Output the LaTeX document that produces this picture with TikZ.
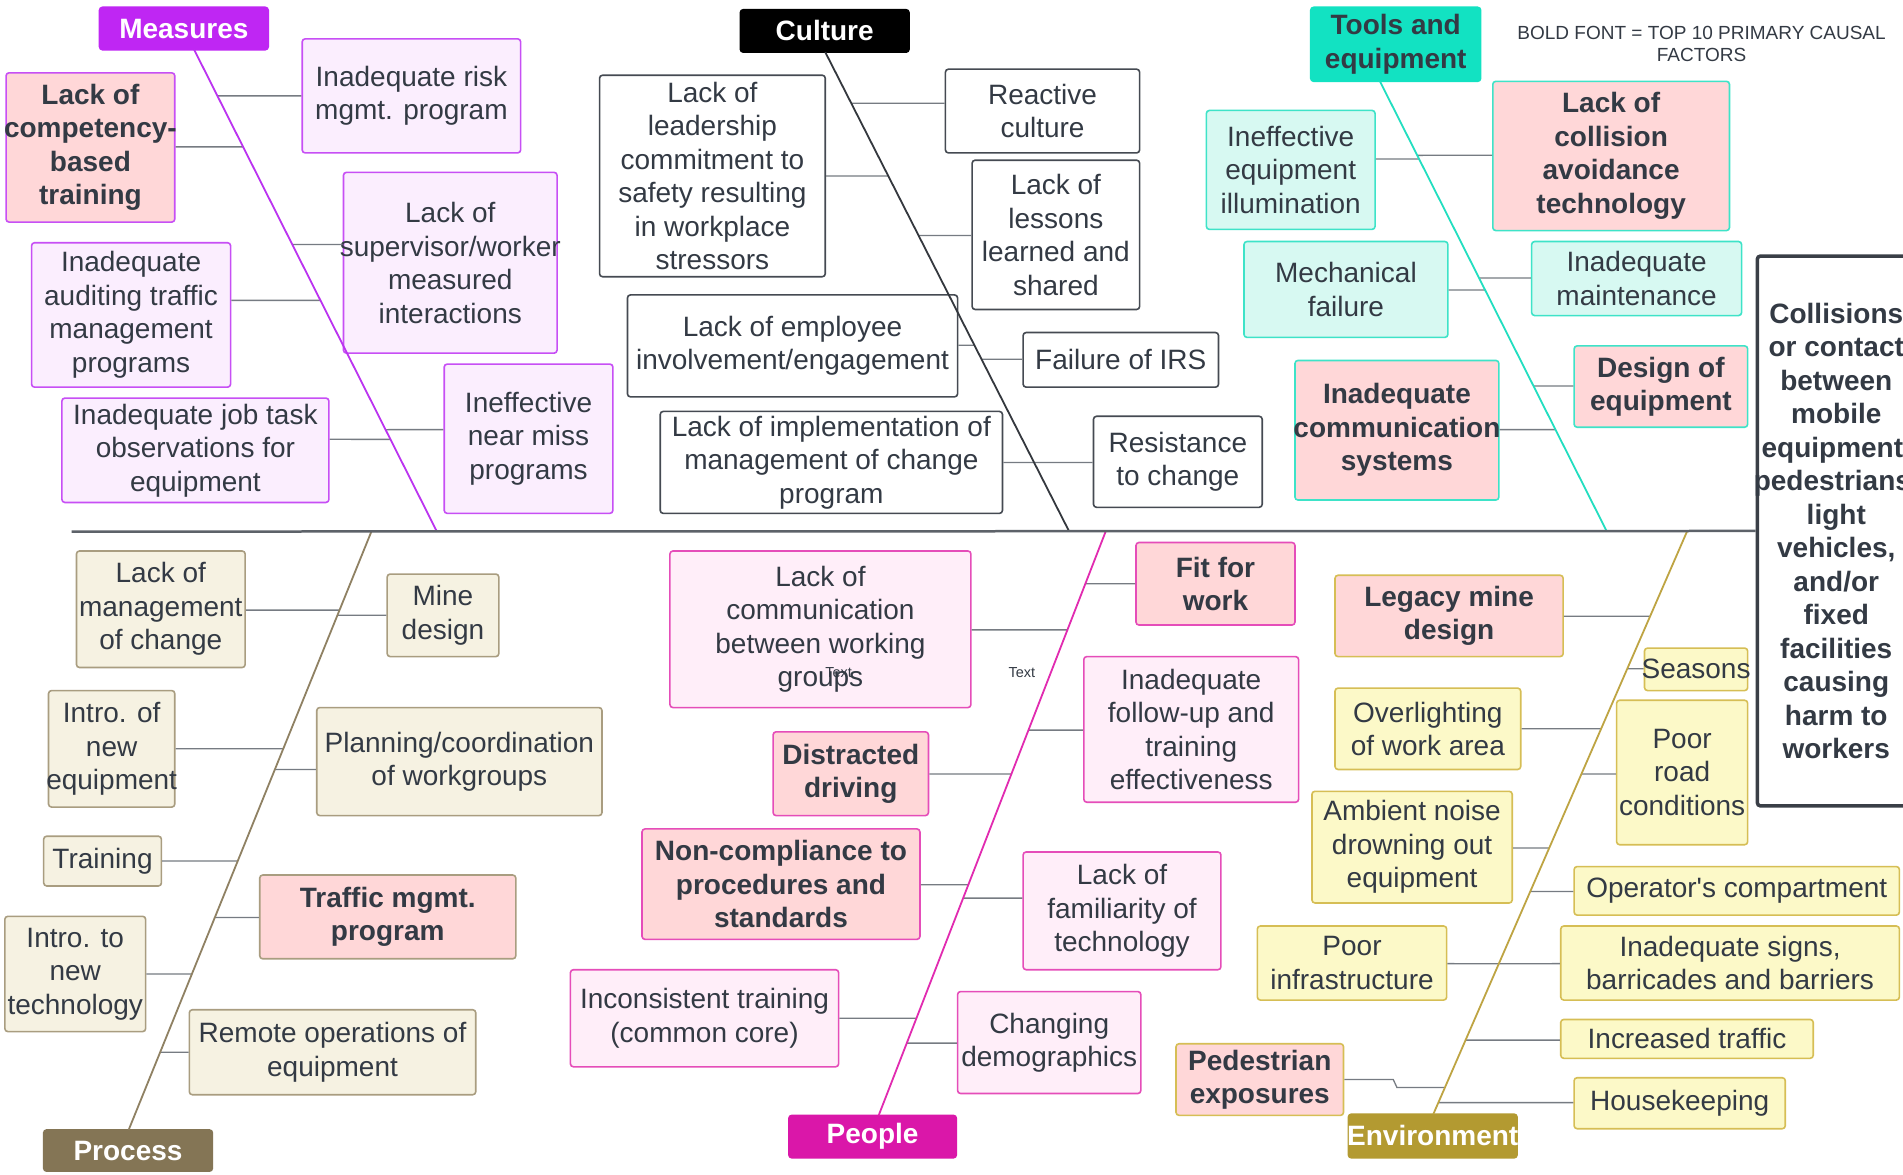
\documentclass[tikz,border=0pt]{standalone}
\usepackage{fontspec}
\setmainfont{Liberation Sans}
\newfontfamily\plainsans{Liberation Sans}
\usetikzlibrary{calc}
\definecolor{tcol}{HTML}{333A44}
\definecolor{pinkf}{HTML}{FFD7D8}
\definecolor{mhead}{HTML}{BF26F3}
\definecolor{mline}{HTML}{BB33F0}
\definecolor{mfill}{HTML}{FBEEFE}
\definecolor{mbord}{HTML}{C74FF5}
\definecolor{cline}{HTML}{34383E}
\definecolor{cbord}{HTML}{454A52}
\definecolor{thead}{HTML}{12E2C2}
\definecolor{tline}{HTML}{22DEC0}
\definecolor{tfill}{HTML}{D7F9F2}
\definecolor{tbord}{HTML}{3EE3C8}
\definecolor{phead}{HTML}{847555}
\definecolor{pline}{HTML}{8F8163}
\definecolor{pfill}{HTML}{F6F2E2}
\definecolor{pbord}{HTML}{A99D80}
\definecolor{ohead}{HTML}{DA17A9}
\definecolor{oline}{HTML}{E12BB0}
\definecolor{ofill}{HTML}{FFEEF9}
\definecolor{obord}{HTML}{E54DB9}
\definecolor{ehead}{HTML}{B39A31}
\definecolor{eline}{HTML}{BEA443}
\definecolor{efill}{HTML}{FCF9C8}
\definecolor{ebord}{HTML}{D6BE55}
\definecolor{conncol}{HTML}{767B82}
\definecolor{mainline}{HTML}{5D6269}
\definecolor{effbord}{HTML}{3A3F47}
\newcommand\mybox[8]{%
  \pgfmathsetlengthmacro\mybw{(#4-#2)*1.2137pt}%
  \pgfmathsetlengthmacro\mybh{(#5-#3)*1.2137pt}%
  \node[boxst,#6,minimum width=\mybw,minimum height=\mybh] (#1) at ({(#2+#4)/2},{(#3+#5)/2}) {};
  \node[#7] (#1-t) at (#1.center) {#8};}
\newcommand\myconn[4]{\draw[conn] (#1 |- 0,#2) -- (intersection of #3--#4 and 0,#2--100,#2);}
\begin{document}
\begin{tikzpicture}[x=1.2137pt,y=-1.2137pt,
  boxst/.style={rectangle,rounded corners=3pt,line width=1.6pt,inner sep=0pt},
  txt/.style={font=\fontsize{28}{33.5}\selectfont,text=tcol,align=center,inner sep=0pt},
  txtb/.style={font=\fontsize{28}{33.5}\selectfont\bfseries,text=tcol,align=center,inner sep=0pt},
  htxt/.style={txtb,text=white},
  conn/.style={draw=conncol,line width=1.3pt},
  spine/.style={line width=1.8pt},
  mb/.style={fill=mfill,draw=mbord},
  cb/.style={fill=white,draw=cbord},
  tb/.style={fill=tfill,draw=tbord},
  pb/.style={fill=pfill,draw=pbord},
  ob/.style={fill=ofill,draw=obord},
  eb/.style={fill=efill,draw=ebord}]
\fill[white] (0,0) rectangle (1568,968);
\useasboundingbox (0,0) rectangle (1568,968);
% Measures
\mybox{mh}{82}{6}{221}{41}{fill=mhead,draw=mhead}{htxt}{Measures}
\mybox{ir}{249}{32}{429}{126}{mb}{txt}{Inadequate risk\\mgmt. program}
\mybox{comp}{5}{60}{144}{183}{mb,fill=pinkf}{txtb}{Lack of\\competency-\\based\\training}
\mybox{sup}{283}{142}{459}{291}{mb}{txt}{Lack of\\supervisor/worker\\measured\\interactions}
\mybox{aud}{26}{200}{190}{319}{mb}{txt}{Inadequate\\auditing traffic\\management\\programs}
\mybox{jt}{51}{328}{271}{414}{mb}{txt}{Inadequate job task\\observations for\\equipment}
\mybox{nm}{366}{300}{505}{423}{mb}{txt}{Ineffective\\near miss\\programs}
% Culture
\mybox{ch}{610}{8}{749}{43}{fill=black,draw=black}{htxt}{Culture}
\mybox{lead}{494}{62}{680}{228}{cb}{txt}{Lack of\\leadership\\commitment to\\safety resulting\\in workplace\\stressors}
\mybox{rc}{779}{57}{939}{126}{cb}{txt}{Reactive\\culture}
\mybox{less}{801}{132}{939}{255}{cb}{txt}{Lack of\\lessons\\learned and\\shared}
\mybox{emp}{517}{243}{789}{327}{cb}{txt}{Lack of employee\\involvement/engagement}
\mybox{irs}{843}{274}{1004}{319}{cb}{txt}{Failure of IRS}
\mybox{impl}{544}{339}{826}{423}{cb}{txt}{Lack of implementation of\\management of change\\program}
\mybox{res}{901}{343}{1040}{418}{cb}{txt}{Resistance\\to change}
% Tools
\mybox{th}{1080}{6}{1220}{67}{fill=thead,draw=thead}{txtb}{Tools and\\equipment}
\mybox{ill}{994}{91}{1133}{189}{tb}{txt}{Ineffective\\equipment\\illumination}
\mybox{col}{1230}{67}{1425}{190}{tb,fill=pinkf}{txtb}{Lack of\\collision\\avoidance\\technology}
\mybox{mech}{1025}{199}{1193}{278}{tb}{txt}{Mechanical\\failure}
\mybox{maint}{1262}{199}{1435}{260}{tb}{txt}{Inadequate\\maintenance}
\mybox{des}{1297}{285}{1440}{352}{tb,fill=pinkf}{txtb}{Design of\\equipment}
\mybox{comm}{1067}{297}{1235}{412}{tb,fill=pinkf}{txtb}{Inadequate\\communication\\systems}
% Process
\mybox{ph}{36}{931}{175}{965}{fill=phead,draw=phead}{htxt}{Process}
\mybox{lmc}{63}{454}{202}{550}{pb}{txt}{Lack of\\management\\of change}
\mybox{md}{319}{473}{411}{541}{pb}{txt}{Mine\\design}
\mybox{ine}{40}{569}{144}{665}{pb}{txt}{Intro. of\\new\\equipment}
\mybox{plan}{261}{583}{496}{672}{pb}{txt}{Planning/coordination\\of workgroups}
\mybox{trn}{36}{689}{133}{730}{pb}{txt}{Training}
\mybox{tmp}{214}{721}{425}{790}{pb,fill=pinkf}{txtb}{Traffic mgmt.\\program}
\mybox{int}{4}{755}{120}{850}{pb}{txt}{Intro. to\\new\\technology}
\mybox{rem}{156}{832}{392}{902}{pb}{txt}{Remote operations of\\equipment}
% People
\mybox{oh}{650}{919}{788}{954}{fill=ohead,draw=ohead}{htxt}{People}
\mybox{lcw}{552}{454}{800}{583}{ob}{txt}{Lack of\\communication\\between working\\groups}
\mybox{fit}{936}{447}{1067}{515}{ob,fill=pinkf}{txtb}{Fit for\\work}
\mybox{fol}{893}{541}{1070}{661}{ob}{txt}{Inadequate\\follow-up and\\training\\effectiveness}
\mybox{dis}{637}{603}{765}{672}{ob,fill=pinkf}{txtb}{Distracted\\driving}
\mybox{nc}{529}{683}{758}{774}{ob,fill=pinkf}{txtb}{Non-compliance to\\procedures and\\standards}
\mybox{fam}{843}{702}{1006}{799}{ob}{txt}{Lack of\\familiarity of\\technology}
\mybox{inc}{470}{799}{691}{879}{ob}{txt}{Inconsistent training\\(common core)}
\mybox{dem}{789}{817}{940}{901}{ob}{txt}{Changing\\demographics}
% Environment
\mybox{eh}{1111}{918}{1250}{954}{fill=ehead,draw=ehead}{htxt}{Environment}
\mybox{leg}{1100}{474}{1288}{541}{eb,fill=pinkf}{txtb}{Legacy mine\\design}
\mybox{sea}{1355}{534}{1440}{569}{eb}{txt}{Seasons}
\mybox{ovl}{1100}{567}{1253}{634}{eb}{txt}{Overlighting\\of work area}
\mybox{prc}{1332}{577}{1440}{696}{eb}{txt}{Poor\\road\\conditions}
\mybox{amb}{1081}{652}{1246}{744}{eb}{txt}{Ambient noise\\drowning out\\equipment}
\mybox{opc}{1297}{714}{1565}{754}{eb}{txt}{\plainsans Operator's compartment}
\mybox{pinf}{1036}{763}{1192}{824}{eb}{txt}{Poor\\infrastructure}
\mybox{sign}{1286}{763}{1565}{824}{eb}{txt}{Inadequate signs,\\barricades and barriers}
\mybox{inct}{1286}{840}{1494}{872}{eb}{txt}{Increased traffic}
\mybox{ped}{969}{860}{1107}{919}{eb,fill=pinkf}{txtb}{Pedestrian\\exposures}
\mybox{hk}{1297}{888}{1471}{930}{eb}{txt}{Housekeeping}
% Effect
\mybox{eff}{1448}{211}{1578}{664}{fill=white,draw=effbord,line width=3.5pt}{txtb}{Collisions\\or contact\\between\\mobile\\equipment,\\pedestrians,\\light\\vehicles,\\and/or\\fixed\\facilities\\causing\\harm to\\workers}
% legend and stray labels
\node[font=\fontsize{19}{22}\selectfont,text=tcol,align=center,inner sep=0pt] (legend) at (1402,36.5) {BOLD FONT = TOP 10 PRIMARY CAUSAL\\FACTORS};
\node[font=\fontsize{14.5}{17}\selectfont,text=tcol,inner sep=0pt] (lbl1) at (842,554) {Text};
\node[font=\fontsize{14.5}{17}\selectfont,text=tcol,inner sep=0pt] (lbl2) at (691,554) {Text};
% spine coordinates
\coordinate (mT) at (160,41); \coordinate (mB) at (360,438);
\coordinate (cT) at (680,43); \coordinate (cB) at (881,438);
\coordinate (tT) at (1137,67); \coordinate (tB) at (1324,438);
\coordinate (pT) at (306,438); \coordinate (pB) at (106,931);
\coordinate (oT) at (911,438); \coordinate (oB) at (724,919);
\coordinate (eT) at (1390,438); \coordinate (eB) at (1181,918);
% connectors
\myconn{ir.west}{79}{mT}{mB}
\myconn{comp.east}{121}{mT}{mB}
\myconn{sup.west}{201.5}{mT}{mB}
\myconn{aud.east}{247.5}{mT}{mB}
\myconn{nm.west}{354}{mT}{mB}
\myconn{jt.east}{362}{mT}{mB}
\myconn{rc.west}{85}{cT}{cB}
\myconn{lead.east}{145}{cT}{cB}
\myconn{less.west}{194}{cT}{cB}
\myconn{emp.east}{284.5}{cT}{cB}
\myconn{irs.west}{296}{cT}{cB}
\myconn{impl.east}{381}{cT}{cB}
\myconn{res.west}{381}{cT}{cB}
\myconn{ill.east}{131}{tT}{tB}
\myconn{col.west}{128}{tT}{tB}
\myconn{mech.east}{239}{tT}{tB}
\myconn{maint.west}{229}{tT}{tB}
\myconn{des.west}{318}{tT}{tB}
\myconn{comm.east}{354}{tT}{tB}
\myconn{lmc.east}{502.7}{pT}{pB}
\myconn{md.west}{507}{pT}{pB}
\myconn{ine.east}{617}{pT}{pB}
\myconn{plan.west}{634}{pT}{pB}
\myconn{trn.east}{709.5}{pT}{pB}
\myconn{tmp.west}{756}{pT}{pB}
\myconn{int.east}{802.6}{pT}{pB}
\myconn{rem.west}{867}{pT}{pB}
\myconn{lcw.east}{519}{oT}{oB}
\myconn{fit.west}{481}{oT}{oB}
\myconn{fol.west}{601.6}{oT}{oB}
\myconn{dis.east}{637.7}{oT}{oB}
\myconn{nc.east}{729}{oT}{oB}
\myconn{fam.west}{740}{oT}{oB}
\myconn{inc.east}{839}{oT}{oB}
\myconn{dem.west}{859.5}{oT}{oB}
\myconn{leg.east}{507.7}{eT}{eB}
\myconn{sea.west}{551}{eT}{eB}
\myconn{ovl.east}{600.4}{eT}{eB}
\myconn{prc.west}{637.7}{eT}{eB}
\myconn{amb.east}{698.7}{eT}{eB}
\myconn{opc.west}{734.6}{eT}{eB}
\myconn{pinf.east}{794}{eT}{eB}
\myconn{sign.west}{794}{eT}{eB}
\myconn{inct.west}{857}{eT}{eB}
\myconn{hk.west}{908.5}{eT}{eB}
\coordinate (pedb) at (1148,889.5);
\draw[conn] (ped.east |- 0,889.5) -- (pedb) -- ++(3,6.5) -- (intersection of eT--eB and 0,896--100,896);
% spines
\draw[spine,mline] (mT) -- (mB);
\draw[spine,cline] (cT) -- (cB);
\draw[spine,tline] (tT) -- (tB);
\draw[spine,pline] (pB) -- (pT);
\draw[spine,oline] (oB) -- (oT);
\draw[spine,eline] (eB) -- (eT);
% main line
\coordinate (mainL) at (59,438);
\draw[mainline,line width=2.5pt] (mainL) -- (eff.west);
\end{tikzpicture}
\end{document}
